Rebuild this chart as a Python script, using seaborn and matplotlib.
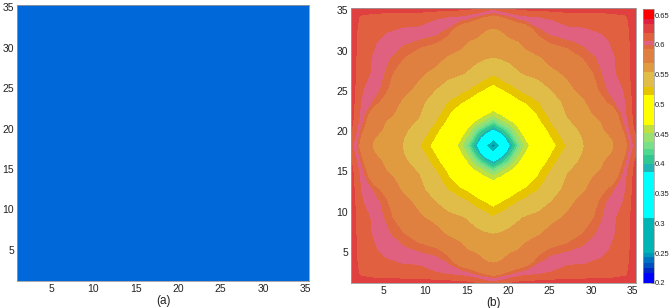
import numpy as np
import matplotlib
matplotlib.use("Agg")
import matplotlib.pyplot as plt
import seaborn as sns
from matplotlib.colors import ListedColormap, BoundaryNorm

sns.set_theme(style="white")
plt.rcParams['font.family'] = ['Liberation Sans', 'DejaVu Sans']

# ---------------- data ----------------
# panel (a): uniform field
uniform_value = 0.24
uniform_colour = '#0068d8'

# panel (b): values read on a grid of offsets from the centre (one quadrant,
# rows = vertical offset, columns = horizontal offset)
centre = 18.2
grid_offsets = [0, 1, 2, 3, 4, 5.5, 7, 9, 11, 13, 14.5, 16, 17.2]
quad_values = [
    [0.215, 0.330, 0.383, 0.425, 0.460, 0.483, 0.508, 0.532, 0.555, 0.563, 0.569, 0.588, 0.612],
    [0.330, 0.362, 0.408, 0.446, 0.469, 0.493, 0.515, 0.539, 0.557, 0.565, 0.571, 0.592, 0.617],
    [0.383, 0.408, 0.432, 0.463, 0.478, 0.503, 0.522, 0.546, 0.560, 0.568, 0.575, 0.597, 0.622],
    [0.425, 0.446, 0.463, 0.472, 0.488, 0.512, 0.530, 0.553, 0.562, 0.570, 0.580, 0.602, 0.625],
    [0.460, 0.469, 0.478, 0.488, 0.498, 0.519, 0.537, 0.557, 0.565, 0.575, 0.585, 0.605, 0.626],
    [0.483, 0.493, 0.503, 0.512, 0.519, 0.530, 0.547, 0.560, 0.568, 0.588, 0.598, 0.607, 0.627],
    [0.508, 0.515, 0.522, 0.530, 0.537, 0.547, 0.555, 0.564, 0.578, 0.595, 0.603, 0.608, 0.628],
    [0.532, 0.539, 0.546, 0.553, 0.557, 0.560, 0.564, 0.574, 0.586, 0.598, 0.605, 0.613, 0.628],
    [0.555, 0.557, 0.560, 0.562, 0.565, 0.568, 0.578, 0.586, 0.594, 0.601, 0.606, 0.613, 0.628],
    [0.563, 0.565, 0.568, 0.570, 0.575, 0.588, 0.595, 0.598, 0.601, 0.603, 0.609, 0.614, 0.628],
    [0.569, 0.571, 0.575, 0.580, 0.585, 0.598, 0.603, 0.605, 0.606, 0.609, 0.610, 0.615, 0.629],
    [0.588, 0.592, 0.597, 0.602, 0.605, 0.607, 0.608, 0.613, 0.613, 0.614, 0.615, 0.618, 0.629],
    [0.612, 0.617, 0.622, 0.625, 0.626, 0.627, 0.628, 0.628, 0.628, 0.628, 0.629, 0.629, 0.630],
]

levels = [0.200, 0.217, 0.225, 0.233, 0.243, 0.250, 0.310, 0.387, 0.400, 0.415,
          0.425, 0.437, 0.452, 0.466, 0.516, 0.530, 0.555, 0.570, 0.593, 0.599,
          0.607, 0.620, 0.635, 0.643, 0.660]
level_colours = ['#0000ff', '#0028c8', '#0050c0', '#0070c0', '#0098b8', '#00b4b4',
                 '#00ffff', '#20b4b4', '#30c890', '#50d890', '#78e088', '#98e070',
                 '#c0e040', '#ffff00', '#e6c400', '#e0bc48', '#e09a40', '#e08040',
                 '#e06a40', '#e06080', '#e06040', '#e04040', '#e02040', '#ff0000']

cbar_ticks = [0.2, 0.25, 0.3, 0.35, 0.4, 0.45, 0.5, 0.55, 0.6, 0.65]
cbar_tick_labels = ['0.2', '0.25', '0.3', '0.35', '0.4', '0.45', '0.5', '0.55', '0.6', '0.65']
axis_ticks = [5, 10, 15, 20, 25, 30, 35]
panel_labels = ['(a)', '(b)']

# ---------------- build field ----------------
go = np.array(grid_offsets)
signed = np.concatenate([-go[1:][::-1], go])
coords = centre + signed
n = len(grid_offsets)
idx = list(range(n - 1, 0, -1)) + list(range(n))
Q = np.array(quad_values)
field_b = Q[np.ix_(idx, idx)]

xlim = (1.0, 35.4)
ylim = (1.15, 35.3)

fig = plt.figure(figsize=(6.7, 3.08), dpi=100)

# ---------------- panel (a) ----------------
ax_a = fig.add_axes([0.0254, 0.0877, 0.4358, 0.8963])
ax_a.pcolormesh(np.array([xlim[0], xlim[1]]), np.array([ylim[0], ylim[1]]),
                np.array([[uniform_value]]), cmap=ListedColormap([uniform_colour]),
                shading='flat')
ax_a.set_xlim(*xlim)
ax_a.set_ylim(*ylim)

# ---------------- panel (b) ----------------
ax_b = fig.add_axes([0.5234, 0.0812, 0.4254, 0.8928])
cmap_b = ListedColormap(level_colours)
norm_b = BoundaryNorm(levels, cmap_b.N)
cs = ax_b.contourf(coords, coords, field_b, levels=levels, cmap=cmap_b, norm=norm_b)
ax_b.set_xlim(*xlim)
ax_b.set_ylim(*ylim)

for ax, lab in zip([ax_a, ax_b], panel_labels):
    ax.set_xticks(axis_ticks)
    ax.set_yticks(axis_ticks)
    ax.tick_params(axis='both', length=0, labelsize=7.5, colors='#222222', pad=2)
    for sp in ax.spines.values():
        sp.set_color('#9a9a9a')
        sp.set_linewidth(0.6)
    ax.set_xlabel(lab, fontsize=8.5, color='#222222', labelpad=1)

# colour bar
cax = fig.add_axes([0.9597, 0.0812, 0.0160, 0.889])
cb = fig.colorbar(cs, cax=cax, ticks=cbar_ticks, spacing='proportional')
cb.ax.minorticks_off()
cb.ax.set_yticks(cbar_ticks)
cb.ax.set_yticklabels(cbar_tick_labels)
cb.ax.tick_params(which='major', direction='in', length=2, width=0.6, color='#333333',
                  labelsize=5.5, pad=0.5, colors='#222222')
cb.outline.set_linewidth(0.5)
cb.outline.set_edgecolor('#9a9a9a')

fig.savefig('out.png', dpi=100)
